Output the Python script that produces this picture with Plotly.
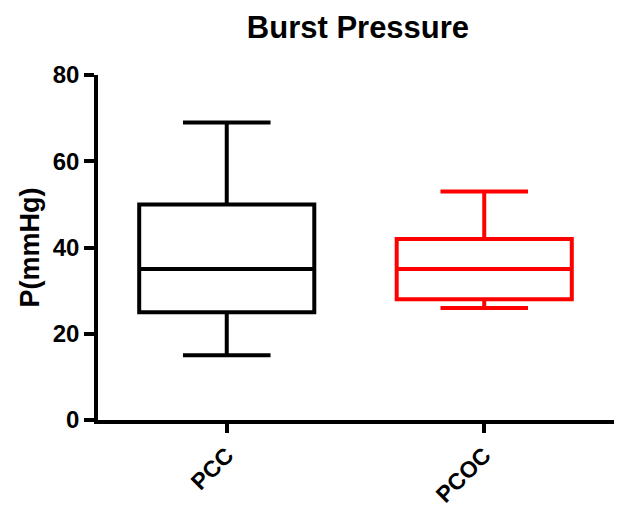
import plotly.graph_objects as go

categories = ["PCC", "PCOC"]
lower_fence = [15, 26]
q1_vals = [25, 28]
medians = [35, 35]
q3_vals = [50, 42]
upper_fence = [69, 53]
colors = ["#000000", "#ff0000"]
y_ticks = [0, 20, 40, 60, 80]

fig = go.Figure()
for i, cat in enumerate(categories):
    fig.add_trace(go.Box(
        x=[cat],
        q1=[q1_vals[i]], median=[medians[i]], q3=[q3_vals[i]],
        lowerfence=[lower_fence[i]], upperfence=[upper_fence[i]],
        name=cat,
        line=dict(color=colors[i], width=4),
        fillcolor="rgba(255,255,255,0)",
        whiskerwidth=0.5,
        width=0.68,
        boxpoints=False,
        showlegend=False,
        hoverinfo="skip",
    ))

font_family = "Arial, Liberation Sans, sans-serif"
fig.update_layout(
    width=614, height=500,
    paper_bgcolor="white", plot_bgcolor="white",
    margin=dict(l=90, r=0, t=67, b=84),
    title=dict(text="<b>Burst Pressure</b>", x=0.570, xanchor="center",
               xref="container", yref="container",
               y=0.962, yanchor="middle",
               font=dict(family=font_family, size=31, color="black")),
    font=dict(family=font_family, color="black"),
    xaxis=dict(
        type="category", range=[-0.5, 1.535],
        showline=True, linecolor="black", linewidth=3.5,
        ticks="outside", ticklen=9, tickwidth=3.5, tickcolor="black",
        tickangle=-45,
        tickfont=dict(family=font_family, size=23, color="black", weight="bold"),
        showgrid=False, zeroline=False,
    ),
    yaxis=dict(
        range=[0, 80], tickvals=y_ticks,
        showline=True, linecolor="black", linewidth=3.5,
        ticks="outside", ticklen=10, tickwidth=3.5, tickcolor="black",
        tickfont=dict(family=font_family, size=24, color="black", weight="bold"),
        title=dict(text="<b>P(mmHg)</b>", standoff=6,
                   font=dict(family=font_family, size=27, color="black")),
        showgrid=False, zeroline=False,
    ),
)

fig.write_html("out.html")
